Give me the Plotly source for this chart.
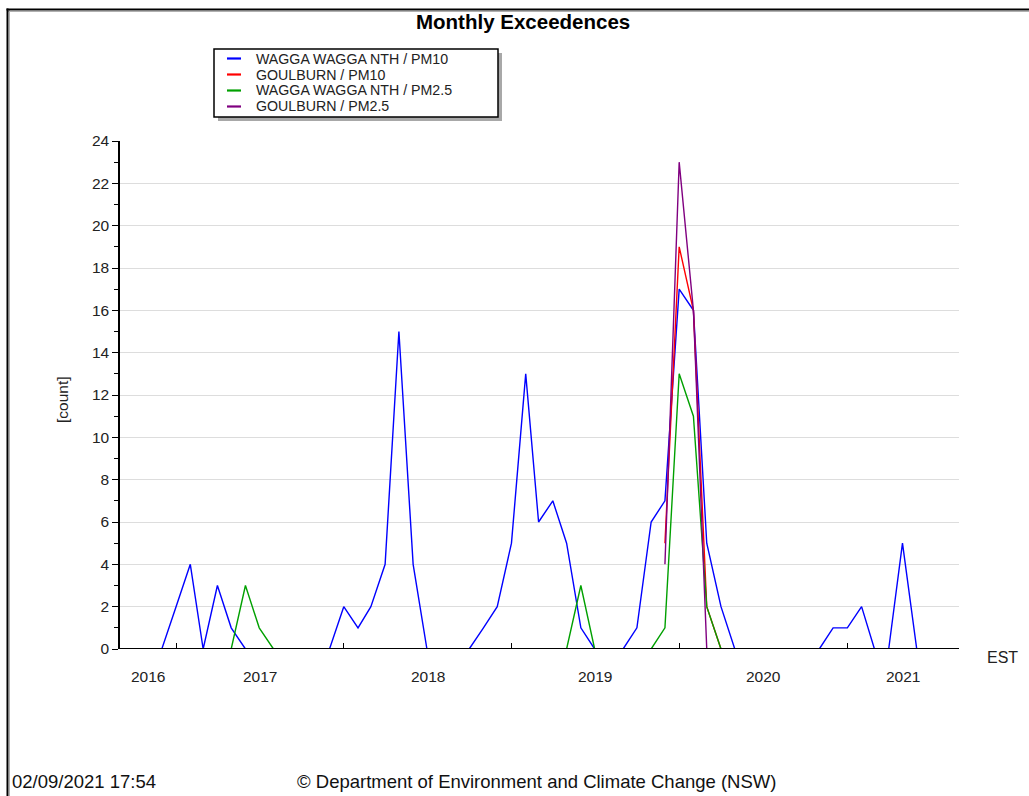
import pandas as pd
import plotly.graph_objects as go

# ---- data -----------------------------------------------------------------
wagga_months = pd.date_range("2016-09-01", "2021-08-01", freq="MS")
goulburn_months = pd.date_range("2019-12-01", "2021-08-01", freq="MS")

wagga_pm10 = [0, 0, 0, 0,
              2, 4, 0, 3, 1, 0, 0, 0, 0, 0, 0, 0,
              2, 1, 2, 4, 15, 4, 0, 0, 0, 0, 1, 2,
              5, 13, 6, 7, 5, 1, 0, 0, 0, 1, 6, 7,
              17, 16, 5, 2, 0, 0, 0, 0, 0, 0, 0, 1,
              1, 2, 0, 0, 5, 0, 0, 0]
wagga_pm25 = [0, 0, 0, 0,
              0, 0, 0, 0, 0, 3, 1, 0, 0, 0, 0, 0,
              0, 0, 0, 0, 0, 0, 0, 0, 0, 0, 0, 0,
              0, 0, 0, 0, 0, 3, 0, 0, 0, 0, 0, 1,
              13, 11, 2, 0, 0, 0, 0, 0, 0, 0, 0, 0,
              0, 0, 0, 0, 0, 0, 0, 0]
goulburn_pm10 = [5,
                 19, 16, 2, 0, 0, 0, 0, 0, 0, 0, 0, 0,
                 0, 0, 0, 0, 0, 0, 0, 0]
goulburn_pm25 = [4,
                 23, 16, 0, 0, 0, 0, 0, 0, 0, 0, 0, 0,
                 0, 0, 0, 0, 0, 0, 0, 0]

series_names = ["WAGGA WAGGA NTH / PM10", "GOULBURN / PM10",
                "WAGGA WAGGA NTH / PM2.5", "GOULBURN / PM2.5"]
series_colors = ["#0000ff", "#ff0000", "#00a000", "#800080"]
series_x = [wagga_months, goulburn_months, wagga_months, goulburn_months]
series_y = [wagga_pm10, goulburn_pm10, wagga_pm25, goulburn_pm25]

year_labels = [2016, 2017, 2018, 2019, 2020, 2021]
x_start = pd.Timestamp("2016-09-01")
x_end = pd.Timestamp("2021-09-01")
y_ticks = list(range(0, 25, 2))

# ---- geometry helpers (pixel -> paper) -------------------------------------
W, H = 1029, 796
L, R, T, B = 120, 959, 141, 649


def px(x):
    return (x - L) / (R - L)


def py(y):
    return (B - y) / (B - T)


FONT = "Liberation Sans, Arial, sans-serif"
TXT = "#222222"

fig = go.Figure()
for name, color, xs, ys in zip(series_names, series_colors, series_x, series_y):
    fig.add_trace(go.Scatter(x=xs, y=ys, mode="lines", name=name,
                             line=dict(color=color, width=1.4),
                             showlegend=False))

year_ticks = [pd.Timestamp(f"{y}-01-01") for y in year_labels[1:]] + [x_end]

fig.update_layout(
    width=W, height=H,
    margin=dict(l=L, r=W - R, t=T, b=H - B, pad=0),
    paper_bgcolor="white", plot_bgcolor="white",
    font=dict(family=FONT, size=15, color=TXT),
    showlegend=False,
    xaxis=dict(range=[x_start, x_end], type="date",
               tickvals=year_ticks, showticklabels=False,
               ticks="inside", ticklen=6, tickcolor="#000", tickwidth=1.2,
               showgrid=False, zeroline=False, showline=False),
    yaxis=dict(range=[0, 24], tickvals=y_ticks, ticks="outside",
               ticklen=6, tickcolor="#000", tickwidth=1,
               showgrid=True, gridcolor="#dddddd", gridwidth=1,
               zeroline=False, showline=True, linecolor="#000",
               linewidth=1.5, ticklabelstandoff=0,
               tickfont=dict(size=15.5, color=TXT),
               minor=dict(tickvals=list(range(1, 24, 2)), ticks="outside",
                          ticklen=4, tickcolor="#000", showgrid=False)),
)

shapes = []
# x axis baseline drawn over the traces
shapes.append(dict(type="line", xref="paper", yref="y", x0=0, x1=1, y0=0, y1=0,
                   line=dict(color="#000", width=2), layer="above"))

# outer frame (top and left edges)
shapes.append(dict(type="line", xref="paper", yref="paper",
                   x0=px(7), x1=px(W + 2), y0=py(11.5), y1=py(11.5),
                   line=dict(color="#b0b0b0", width=1)))
shapes.append(dict(type="line", xref="paper", yref="paper",
                   x0=px(9.5), x1=px(9.5), y0=py(10), y1=py(H + 2),
                   line=dict(color="#b0b0b0", width=1)))
shapes.append(dict(type="line", xref="paper", yref="paper",
                   x0=px(6.5), x1=px(W + 2), y0=py(9.5), y1=py(9.5),
                   line=dict(color="#000", width=2)))
shapes.append(dict(type="line", xref="paper", yref="paper",
                   x0=px(7.5), x1=px(7.5), y0=py(8.5), y1=py(H + 2),
                   line=dict(color="#000", width=2)))

# legend box with drop shadow
shapes.append(dict(type="rect", xref="paper", yref="paper",
                   x0=px(218), x1=px(502), y0=py(53), y1=py(121),
                   fillcolor="#a8a8a8", line=dict(width=0)))
shapes.append(dict(type="rect", xref="paper", yref="paper",
                   x0=px(214), x1=px(498), y0=py(49), y1=py(117),
                   fillcolor="white", line=dict(color="#000", width=1.5)))

annotations = []
legend_rows = [58.5, 74.5, 90.5, 106.5]
for name, color, yy in zip(series_names, series_colors, legend_rows):
    shapes.append(dict(type="line", xref="paper", yref="paper",
                       x0=px(227), x1=px(241), y0=py(yy), y1=py(yy),
                       line=dict(color=color, width=2.2)))
    annotations.append(dict(text=name, xref="paper", yref="paper",
                            x=px(254), y=py(yy), xanchor="left", yanchor="middle",
                            showarrow=False, font=dict(size=14.2, color=TXT)))

# year labels centred on the visible part of each year
for yr in year_labels:
    a = max(pd.Timestamp(f"{yr}-01-01"), x_start)
    b = min(pd.Timestamp(f"{yr + 1}-01-01"), x_end)
    mid = a + (b - a) / 2
    annotations.append(dict(text=str(yr), xref="x", yref="paper", x=mid, y=py(676),
                            xanchor="center", yanchor="middle", showarrow=False,
                            font=dict(size=15.5, color=TXT)))

annotations += [
    dict(text="<b>Monthly Exceedences</b>", xref="paper", yref="paper",
         x=px(523), y=py(22), xanchor="center", yanchor="middle",
         showarrow=False, font=dict(size=20.5, color="#000")),
    dict(text="[count]", xref="paper", yref="paper", x=px(62), y=py(400),
         xanchor="center", yanchor="middle", textangle=-90, showarrow=False,
         font=dict(size=15.5, color=TXT)),
    dict(text="EST", xref="paper", yref="paper", x=px(1002), y=py(657),
         xanchor="center", yanchor="middle", showarrow=False,
         font=dict(size=16, color=TXT)),
    dict(text="02/09/2021 17:54", xref="paper", yref="paper", x=px(10), y=py(781),
         xanchor="left", yanchor="middle", showarrow=False,
         font=dict(size=18.5, color="#111")),
    dict(text="© Department of Environment and Climate Change (NSW)",
         xref="paper", yref="paper", x=px(536), y=py(781),
         xanchor="center", yanchor="middle", showarrow=False,
         font=dict(size=18.5, color="#111")),
]

fig.update_layout(shapes=shapes, annotations=annotations)
fig.write_html("out.html")
